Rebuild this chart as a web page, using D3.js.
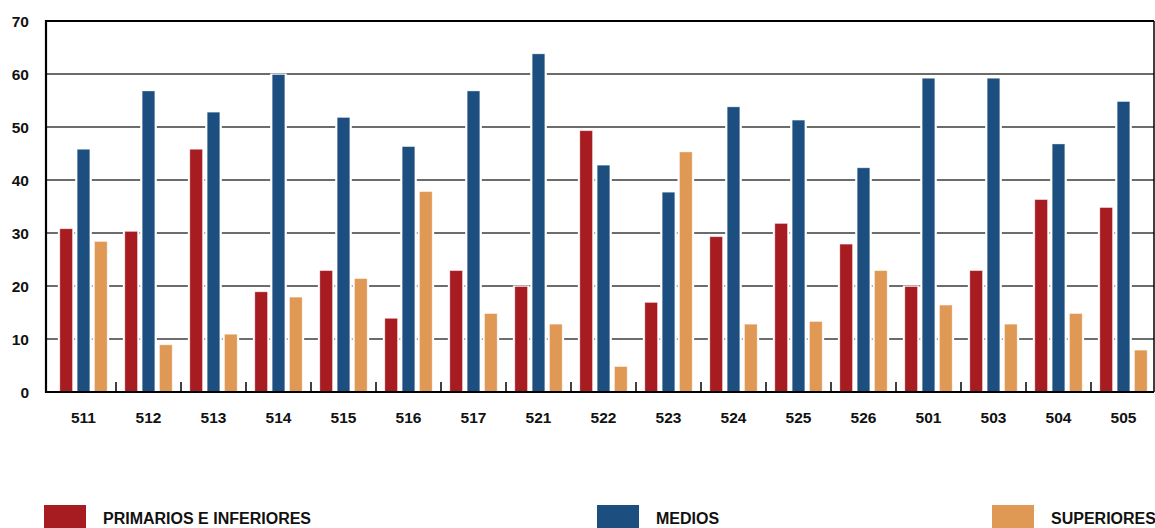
<!DOCTYPE html>
<html>
<head>
<meta charset="utf-8">
<script src="https://cdn.jsdelivr.net/npm/d3@7"></script>
<style>
  html, body { margin: 0; padding: 0; background: #fff; }
  svg { display: block; }
  text { font-family: "Liberation Sans", Arial, sans-serif; font-weight: bold; fill: #111; }
</style>
</head>
<body>
<svg id="chart" width="1155" height="528"></svg>
<script>
// District codes along the x axis
const categories = ["511", "512", "513", "514", "515", "516", "517", "521", "522",
                    "523", "524", "525", "526", "501", "503", "504", "505"];

// Share of population by education level (%)
const primarios  = [30.8, 30.3, 45.8, 18.9, 22.9, 13.9, 22.9, 19.9, 49.3,
                    16.9, 29.3, 31.8, 27.9, 19.9, 22.9, 36.3, 34.8];
const medios     = [45.8, 56.8, 52.8, 59.9, 51.8, 46.3, 56.8, 63.8, 42.8,
                    37.7, 53.8, 51.3, 42.3, 59.2, 59.2, 46.8, 54.8];
const superiores = [28.4, 8.9, 10.9, 17.9, 21.4, 37.8, 14.8, 12.8, 4.8,
                    45.3, 12.8, 13.3, 22.9, 16.4, 12.8, 14.8, 7.9];

const seriesNames = ["PRIMARIOS E INFERIORES", "MEDIOS", "SUPERIORES"];
const seriesColors = ["#a61c21", "#1c4f80", "#e09955"];
const yTicks = [0, 10, 20, 30, 40, 50, 60, 70];

const seriesValues = [primarios, medios, superiores];

const svg = d3.select("#chart");

const plotLeft = 46, plotRight = 1154, plotTop = 21, plotBottom = 392;

const x = d3.scaleBand().domain(categories).range([51, 1156]).paddingInner(0).paddingOuter(0);
const xInner = d3.scaleBand().domain(seriesNames).range([0, x.bandwidth()])
  .paddingInner(0.27).paddingOuter(0.51);
const y = d3.scaleLinear().domain([0, 70]).range([plotBottom, plotTop]);

// Horizontal gridlines
svg.append("g")
  .selectAll("line")
  .data(yTicks.filter(t => t > 0 && t < 70))
  .join("line")
  .attr("x1", plotLeft).attr("x2", plotRight)
  .attr("y1", d => y(d)).attr("y2", d => y(d))
  .attr("stroke", "#6c6c6c")
  .attr("stroke-width", 1.8);

// Bars: a white halo breaks the gridlines around each bar
const rows = [];
categories.forEach((c, i) => {
  seriesNames.forEach((s, j) => {
    rows.push({ cat: c, series: s, value: seriesValues[j][i], color: seriesColors[j] });
  });
});

const barG = svg.append("g");
barG.selectAll("rect.halo")
  .data(rows)
  .join("rect")
  .attr("class", "halo")
  .attr("x", d => x(d.cat) + xInner(d.series) - 2)
  .attr("width", xInner.bandwidth() + 4)
  .attr("y", d => y(d.value) - 1)
  .attr("height", d => plotBottom - y(d.value) + 1)
  .attr("fill", "#fff");

barG.selectAll("rect.bar")
  .data(rows)
  .join("rect")
  .attr("class", "bar")
  .attr("x", d => x(d.cat) + xInner(d.series))
  .attr("width", xInner.bandwidth())
  .attr("y", d => y(d.value))
  .attr("height", d => plotBottom - y(d.value))
  .attr("fill", d => d.color)
  .attr("stroke", "rgba(255,255,255,0.45)")
  .attr("stroke-width", 0.8);

// Frame: left axis, bottom axis, top and right borders
const frame = svg.append("g").attr("stroke", "#000").attr("fill", "none");
frame.append("line").attr("x1", plotLeft).attr("x2", plotRight)
  .attr("y1", y(70)).attr("y2", y(70)).attr("stroke-width", 2);
frame.append("line").attr("x1", plotRight).attr("x2", plotRight)
  .attr("y1", plotTop).attr("y2", plotBottom).attr("stroke-width", 1.5);
frame.append("line").attr("x1", plotLeft).attr("x2", plotLeft)
  .attr("y1", plotTop - 1).attr("y2", plotBottom + 1).attr("stroke-width", 2.2);
frame.append("line").attr("x1", plotLeft).attr("x2", plotRight)
  .attr("y1", plotBottom).attr("y2", plotBottom).attr("stroke-width", 2.2);

// Category separator ticks on the x axis
frame.selectAll("line.sep")
  .data(categories.slice(1))
  .join("line")
  .attr("class", "sep")
  .attr("x1", d => x(d)).attr("x2", d => x(d))
  .attr("y1", plotBottom - 10).attr("y2", plotBottom)
  .attr("stroke-width", 1.5);

// Y tick labels
svg.append("g")
  .selectAll("text")
  .data(yTicks)
  .join("text")
  .attr("x", 29)
  .attr("y", d => y(d))
  .attr("dy", "0.36em")
  .attr("text-anchor", "end")
  .attr("font-size", 15.5)
  .text(d => d);

// X category labels
svg.append("g")
  .selectAll("text")
  .data(categories)
  .join("text")
  .attr("x", d => x(d) + x.bandwidth() / 2)
  .attr("y", 423)
  .attr("text-anchor", "middle")
  .attr("font-size", 15.5)
  .text(d => d);

// Legend
const legendX = [44, 597, 992];
const legend = svg.append("g")
  .selectAll("g")
  .data(seriesNames)
  .join("g")
  .attr("transform", (d, i) => `translate(${legendX[i]},505)`);
legend.append("rect")
  .attr("width", 42).attr("height", 30)
  .attr("fill", (d, i) => seriesColors[i]);
legend.append("text")
  .attr("x", 59).attr("y", 19)
  .attr("font-size", 16)
  .text(d => d);
</script>
</body>
</html>
